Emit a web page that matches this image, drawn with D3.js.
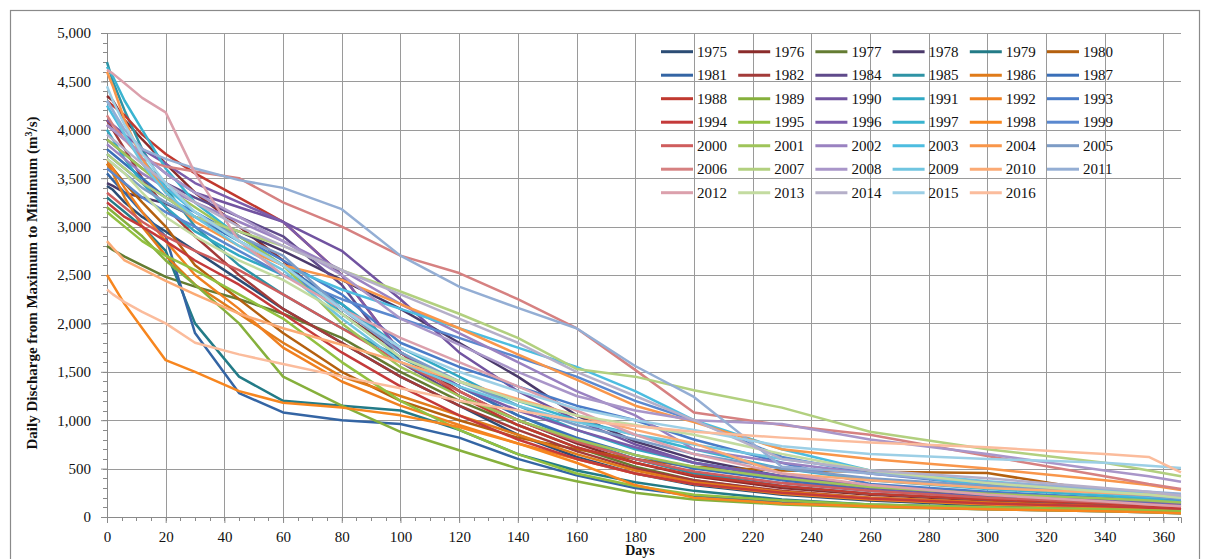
<!DOCTYPE html>
<html>
<head>
<meta charset="utf-8">
<script src="https://cdn.jsdelivr.net/npm/d3@7"></script>
<style>
  body { margin: 0; background: #fff; }
  svg text { font-family: "Liberation Serif", "Times New Roman", serif; fill: #111; }
</style>
</head>
<body>
<div id="chart"></div>
<script>
// days at which each year's duration curve is read
const DAYS = [0, 2, 6, 12, 20, 30, 45, 60, 80, 100, 120, 140, 160, 180, 200, 230, 260, 300, 340, 355, 366];

const v1975 = [3420,3380,3250,3100,2950,2750,2450,2150,1800,1450,1150,850,620,450,330,230,170,120,90,75,60];
const v1976 = [4350,4300,4100,3900,3650,3350,3000,2650,2100,1700,1300,1000,760,560,420,300,230,170,120,100,80];
const v1977 = [2800,2760,2690,2600,2480,2380,2250,2100,1850,1500,1200,950,720,520,380,260,190,140,100,85,70];
const v1978 = [3450,3420,3350,3300,3240,3100,2950,2750,2450,2150,1800,1450,1050,780,600,420,320,240,180,150,130];
const v1979 = [3300,3250,3150,3000,2750,2000,1450,1200,1150,1100,900,650,480,360,270,180,130,100,80,70,55];
const v1980 = [3650,3600,3450,3250,3000,2600,2250,1900,1500,1200,1000,820,700,600,520,480,468,455,260,200,150];
const v1981 = [3550,3480,3350,3150,2900,1900,1280,1080,1000,960,820,600,430,300,220,150,110,80,60,50,40];
const v1982 = [4100,4000,3800,3500,3200,2900,2500,2150,1800,1450,1150,900,680,500,380,270,200,150,110,95,80];
const v1984 = [3900,3850,3750,3600,3450,3300,3100,2900,2400,1600,1250,1000,780,600,460,350,270,210,160,140,120];
const v1985 = [4700,4500,4200,3800,3400,3000,2600,2300,1950,1650,1350,1050,800,600,450,320,240,180,140,120,100];
const v1986 = [3650,3550,3300,3000,2700,2400,2100,1800,1450,1250,1050,850,650,480,360,260,200,150,110,95,80];
const v1987 = [3800,3750,3650,3500,3300,3100,2850,2600,2200,1700,1350,1050,820,640,500,380,280,210,160,140,120];
const v1988 = [4300,4250,4150,3950,3750,3550,3300,3050,2500,1700,1250,950,720,560,430,320,240,180,140,120,100];
const v1989 = [3200,3150,3050,2900,2650,2400,2000,1450,1150,880,690,500,370,250,180,130,100,80,60,50,40];
const v1990 = [4050,4000,3900,3750,3550,3350,3200,3050,2750,2250,1700,1300,1000,750,560,400,300,230,170,150,130];
const v1991 = [4000,3900,3700,3450,3200,2950,2700,2500,2200,1750,1450,1150,900,700,560,420,320,240,180,160,140];
const v1992 = [3700,3600,3400,3150,2850,2500,2150,1750,1400,1150,950,760,600,450,340,240,180,130,100,85,70];
const v1993 = [3750,3700,3600,3450,3300,3150,2900,2650,2300,1800,1550,1350,1150,1000,800,560,340,260,200,170,150];
const v1994 = [3250,3200,3100,3000,2850,2650,2400,2100,1700,1350,1050,800,600,450,340,250,190,140,110,95,80];
const v1995 = [3150,3100,3000,2850,2700,2550,2300,2050,1600,1200,900,650,450,320,230,170,130,100,80,70,60];
const v1996 = [4100,4050,3950,3800,3650,3450,3250,3050,2500,1700,1350,1100,900,720,560,420,320,240,180,160,140];
const v1997 = [4650,4550,4300,4000,3600,3250,2900,2600,2100,1650,1400,1200,1000,850,700,500,380,290,220,190,160];
const v1998 = [2500,2400,2200,1950,1620,1500,1300,1180,1130,1050,930,760,560,330,200,140,110,80,60,50,40];
const v1999 = [3600,3550,3450,3300,3150,3000,2750,2500,2250,2050,1850,1650,1450,1200,1000,620,450,330,250,210,180];
const v2000 = [3350,3300,3200,3050,2900,2750,2550,2300,1950,1600,1300,1000,780,600,470,350,270,200,150,130,110];
const v2001 = [3900,3850,3750,3600,3400,3200,2900,2600,2000,1550,1250,1000,800,640,520,400,310,240,190,170,150];
const v2002 = [3850,3800,3700,3550,3400,3250,3050,2850,2550,2200,1900,1600,1300,1050,700,560,450,350,270,240,210];
const v2003 = [4250,4150,3950,3700,3400,3150,2850,2600,2350,2150,1950,1750,1550,1300,1000,700,480,320,240,210,190];
const v2004 = [4600,4450,4100,3700,3350,3050,2800,2600,2450,2200,1950,1680,1420,1150,980,700,600,500,380,330,280];
const v2005 = [3700,3650,3550,3400,3250,3100,2900,2700,2150,1700,1400,1150,950,800,650,500,400,320,250,220,190];
const v2006 = [4150,4050,3900,3700,3620,3570,3500,3250,3000,2700,2520,2250,1950,1520,1080,950,850,630,420,340,290];
const v2007 = [3750,3700,3600,3450,3300,3100,2950,2800,2550,2330,2100,1850,1530,1450,1310,1130,880,700,560,480,420];
const v2008 = [4050,4000,3900,3750,3550,3350,3100,2850,2500,2050,1780,1500,1250,1100,1000,960,800,650,480,420,365];
const v2009 = [4300,4200,3950,3650,3350,3100,2800,2550,2050,1600,1350,1150,980,850,750,600,480,370,280,240,200];
const v2010 = [2850,2780,2650,2560,2440,2300,2100,1950,1780,1600,1400,1220,1050,900,760,450,380,300,250,230,210];
const v2011 = [4300,4200,4000,3800,3700,3600,3480,3400,3180,2700,2380,2160,1950,1560,1240,520,450,360,290,260,240];
const v2012 = [4620,4580,4480,4330,4180,3550,2850,2500,2150,1850,1600,1350,1100,850,650,450,330,230,160,130,110];
const v2013 = [3700,3650,3550,3350,3100,2900,2650,2450,2100,1650,1400,1200,1050,950,850,650,480,350,260,230,200];
const v2014 = [3950,3900,3800,3650,3450,3250,3000,2800,2550,2300,2050,1800,1500,1250,1000,600,480,400,300,260,220];
const v2015 = [4450,4300,4050,3750,3450,3150,2850,2600,2150,1750,1500,1300,1120,1000,900,730,650,600,560,530,506];
const v2016 = [2350,2300,2220,2120,2000,1800,1680,1580,1450,1330,1200,1100,1000,940,880,820,770,720,650,620,460];

const YEARS = ["1975","1976","1977","1978","1979","1980","1981","1982","1984","1985","1986","1987",
  "1988","1989","1990","1991","1992","1993","1994","1995","1996","1997","1998","1999",
  "2000","2001","2002","2003","2004","2005","2006","2007","2008","2009","2010","2011",
  "2012","2013","2014","2015","2016"];

const VALUES = [v1975,v1976,v1977,v1978,v1979,v1980,v1981,v1982,v1984,v1985,v1986,v1987,
  v1988,v1989,v1990,v1991,v1992,v1993,v1994,v1995,v1996,v1997,v1998,v1999,
  v2000,v2001,v2002,v2003,v2004,v2005,v2006,v2007,v2008,v2009,v2010,v2011,
  v2012,v2013,v2014,v2015,v2016];

const COLORS = ["#2c4d75","#8b2c2b","#647c32","#4b3a6b","#237b87","#b4600f",
  "#3465a4","#a33b39","#5f4a8b","#2e93a5","#e07b1a","#3a6fb8",
  "#c0392f","#86b03c","#7153a0","#31a9c4","#f08020","#4a7cc8",
  "#c43a3a","#92c040","#7b5cab","#3ab4d0","#f7861f","#5a88cf",
  "#cf5d5d","#9fc45a","#9a82c1","#4dbde0","#f9964a","#7d9cc6",
  "#d68181","#b2d07f","#a996c9","#70c5e0","#fbaa74","#94aed4",
  "#dba0ac","#c3dba0","#b5afc9","#9ccfe6","#fbbc9c"];

const Y_TICKS = d3.range(0, 5001, 500);
const X_TICKS = d3.range(0, 361, 20);

const W = 1205, H = 559;
const margin = {top: 33, right: 24, bottom: 42, left: 107};
const plotW = W - margin.left - margin.right;   // 1074
const plotH = H - margin.top - margin.bottom;    // 484

const svg = d3.select("#chart").append("svg")
    .attr("width", W)
    .attr("height", H);

// outer chart frame
svg.append("rect")
    .attr("x", 10.5).attr("y", 10.5)
    .attr("width", 1189).attr("height", 580)
    .attr("fill", "none")
    .attr("stroke", "#8a8a8a")
    .attr("stroke-width", 1.2);

const g = svg.append("g")
    .attr("transform", "translate(" + margin.left + "," + margin.top + ")");

// scales
const x = d3.scaleLinear().domain([0, 366]).range([0, plotW]);
const y = d3.scaleLinear().domain([0, 5000]).range([plotH, 0]);

// gridlines
g.append("g").selectAll("line")
    .data(Y_TICKS.filter(d => d > 0))
    .join("line")
    .attr("x1", 0).attr("x2", plotW)
    .attr("y1", d => Math.round(y(d)) + 0.5).attr("y2", d => Math.round(y(d)) + 0.5)
    .attr("stroke", "#9a9a9a").attr("stroke-width", 1);

g.append("g").selectAll("line")
    .data(X_TICKS.filter(d => d > 0))
    .join("line")
    .attr("x1", d => Math.round(x(d)) + 0.5).attr("x2", d => Math.round(x(d)) + 0.5)
    .attr("y1", 0).attr("y2", plotH)
    .attr("stroke", "#9a9a9a").attr("stroke-width", 1);

// minor ticks
g.append("g").selectAll("line")
    .data(d3.range(0, 5001, 100))
    .join("line")
    .attr("x1", -4).attr("x2", 0)
    .attr("y1", d => Math.round(y(d)) + 0.5).attr("y2", d => Math.round(y(d)) + 0.5)
    .attr("stroke", "#8a8a8a");

g.append("g").selectAll("line")
    .data(d3.range(0, 366, 5))
    .join("line")
    .attr("x1", d => Math.round(x(d)) + 0.5).attr("x2", d => Math.round(x(d)) + 0.5)
    .attr("y1", plotH).attr("y2", plotH + 4)
    .attr("stroke", "#8a8a8a");

// axes
const yAxis = d3.axisLeft(y).tickValues(Y_TICKS).tickSize(6).tickPadding(10)
    .tickFormat(d3.format(","));
const yAxisGroup = g.append("g").attr("class", "y-axis").call(yAxis);

const xAxis = d3.axisBottom(x).tickValues(X_TICKS).tickSize(6).tickPadding(8)
    .tickFormat(d3.format("d"));
const xAxisGroup = g.append("g").attr("class", "x-axis")
    .attr("transform", "translate(0," + plotH + ")")
    .call(xAxis);

[yAxisGroup, xAxisGroup].forEach(ax => {
    ax.select(".domain").attr("stroke", "#8a8a8a");
    ax.selectAll(".tick line").attr("stroke", "#8a8a8a");
    ax.selectAll(".tick text")
        .style("font-family", "'Liberation Serif', 'Times New Roman', serif")
        .style("font-size", "15px")
        .attr("fill", "#111");
});

// flow duration curves, drawn in year order
const line = d3.line()
    .x((d, i) => x(DAYS[i]))
    .y(d => y(d));

g.append("g").selectAll("path")
    .data(VALUES)
    .join("path")
    .attr("d", d => line(d))
    .attr("fill", "none")
    .attr("stroke", (d, i) => COLORS[i])
    .attr("stroke-width", 2.5)
    .attr("stroke-linejoin", "round");

// legend, 6 columns
const legend = svg.append("g").attr("class", "legend");
YEARS.forEach((yr, i) => {
    let col = i % 6, row = Math.floor(i / 6);
    let lx = 661 + col * 77.2, ly = 51.7 + row * 23.5;
    legend.append("line")
        .attr("x1", lx).attr("x2", lx + 32)
        .attr("y1", ly).attr("y2", ly)
        .attr("stroke", COLORS[i]).attr("stroke-width", 3);
    legend.append("text")
        .attr("x", lx + 36).attr("y", ly + 5)
        .style("font-size", "15px")
        .text(yr);
});

// axis titles
svg.append("text")
    .attr("transform", "translate(37,283) rotate(-90)")
    .attr("text-anchor", "middle")
    .style("font-size", "15px")
    .style("font-weight", "bold")
    .html('Daily Discharge from Maximum to Minimum  (m<tspan baseline-shift="super" font-size="10px">3</tspan>/s)');

svg.append("text")
    .attr("x", 640).attr("y", 555)
    .attr("text-anchor", "middle")
    .style("font-size", "14px")
    .style("font-weight", "bold")
    .text("Days");
</script>
</body>
</html>
